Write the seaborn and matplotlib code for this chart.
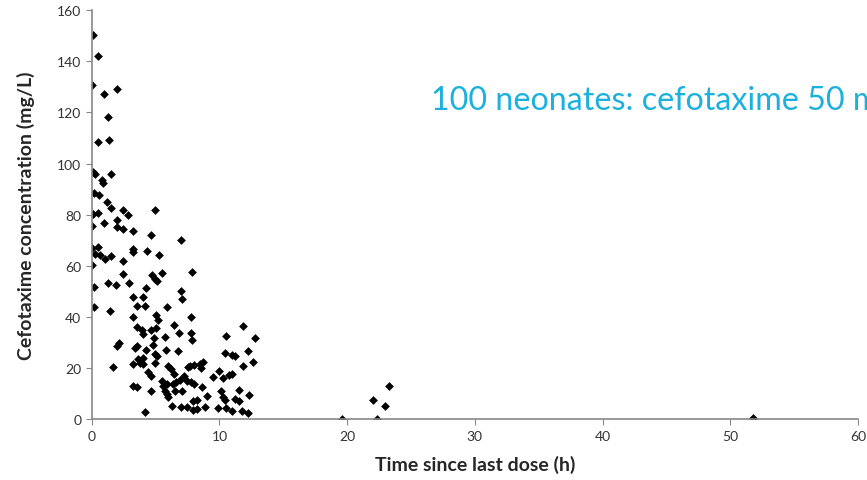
import seaborn as sns
import matplotlib.pyplot as plt
import pandas as pd

time_h = [
    0.13, 0.52, 0.05, 0.99, 2.0, 1.25, 0.52, 1.35, 0.08, 0.28, 1.49,
    0.78, 0.91, 0.18, 0.57, 1.17, 1.49, 0.13, 0.52, 2.42, 2.87, 4.96,
    0.05, 0.99, 1.96, 1.96, 2.48, 3.26, 4.64, 6.99, 0.05, 0.52, 0.26,
    0.65, 1.04, 1.49, 3.26, 3.26, 4.31, 5.27, 2.48, 0.0, 2.48, 4.70,
    4.96, 5.09, 5.53, 1.30, 1.90, 2.95, 0.18, 4.25, 6.99, 3.26, 4.04,
    7.83,
    3.52, 4.17, 0.18, 1.43, 5.87, 7.05, 3.26, 5.04, 5.22, 3.52, 3.92,
    4.04, 4.62, 5.04, 6.47, 5.74, 6.80, 4.90, 1.96, 2.16, 3.52, 4.78,
    4.23, 3.39, 4.96, 5.09, 5.80, 6.73, 3.65, 4.04, 3.78, 3.26, 4.04,
    4.96, 1.69, 6.0, 6.21, 6.47, 4.43, 4.62, 7.25, 5.48, 5.61, 5.87,
    6.39, 6.60, 3.26, 3.52, 4.62, 5.74, 5.87, 6.0, 6.52, 6.26, 6.99,
    4.17,
    7.78, 11.87, 7.78, 7.83, 10.52, 12.79, 10.44, 10.96, 11.22, 12.26,
    11.82, 12.66, 7.70, 8.01, 7.57, 8.48, 8.74, 8.54, 6.92, 7.44, 7.78,
    8.01, 9.52, 9.99, 10.31, 10.78, 10.96, 7.05, 8.66, 7.96, 8.27, 9.0,
    10.1, 11.56, 10.31, 10.44, 11.22, 11.56, 12.34, 7.49, 7.96, 8.22,
    8.87, 9.91, 10.52, 10.96, 11.74, 12.26,
    19.6, 22.0, 23.0, 23.3, 22.3, 51.8,
]
conc_mg_l = [
    150.2, 142.1, 130.6, 127.1, 129.0, 118.2, 108.5, 109.1, 96.7, 95.8, 95.8,
    93.4, 92.4, 88.6, 87.6, 85.0, 82.7, 80.4, 80.8, 81.7, 80.1, 81.7,
    75.6, 76.8, 77.8, 75.4, 74.5, 73.6, 72.2, 70.2, 67.1, 67.4, 64.7,
    64.1, 62.8, 63.7, 66.7, 65.4, 65.8, 64.1, 61.8, 60.2, 56.9, 56.3,
    54.9, 54.3, 57.2, 53.3, 52.6, 53.3, 51.7, 51.3, 50.4, 48.0, 48.0,
    57.8,
    44.5, 44.5, 44.1, 42.3, 43.9, 46.9, 40.0, 41.0, 38.7, 36.1, 35.0,
    33.5, 35.1, 35.8, 37.0, 32.4, 33.8, 31.9, 28.9, 29.8, 28.9, 29.3,
    27.2, 27.9, 25.6, 25.0, 27.2, 26.7, 23.7, 23.9, 22.0, 21.7, 21.7,
    22.0, 20.6, 21.0, 19.7, 17.8, 18.5, 17.1, 17.1, 14.9, 13.2, 13.9,
    13.9, 14.6, 13.2, 12.6, 11.3, 11.3, 10.0, 8.7, 11.3, 5.2, 4.8,
    2.8,
    40.2, 36.7, 33.7, 31.1, 32.5, 31.8, 25.9, 25.2, 24.7, 26.9,
    21.0, 22.4, 21.0, 21.3, 20.4, 21.7, 22.4, 20.1, 15.4, 15.2, 14.6,
    13.9, 16.5, 18.9, 16.1, 17.4, 17.8, 11.3, 12.8, 7.4, 7.6, 9.3,
    11.3, 11.7, 8.7, 7.6, 8.0, 7.1, 9.6, 4.8, 3.7, 4.1,
    4.8, 4.4, 4.4, 3.4, 3.2, 2.4,
    0.3, 7.5, 5.3, 13.0, 0.2, 0.5,
]

x_ticks = [0, 10, 20, 30, 40, 50, 60]
y_ticks = [0, 20, 40, 60, 80, 100, 120, 140, 160]
headline = "100 neonates: cefotaxime 50 mg/kg"


def main():
    sns.set_style("ticks")
    plt.rcParams['font.family'] = ['Lato', 'DejaVu Sans']

    df = pd.DataFrame({"time": time_h, "conc": conc_mg_l})

    fig = plt.figure(figsize=(8.67, 4.81), dpi=100)
    ax = fig.add_axes([0.1058, 0.1258, 0.8838, 0.8512])

    sns.scatterplot(data=df, x="time", y="conc", marker="D", s=20,
                    color="black", edgecolor="black", linewidth=0, ax=ax)

    ax.set_xlim(0, 60)
    ax.set_ylim(0, 160)
    ax.set_xticks(x_ticks)
    ax.set_yticks(y_ticks)
    ax.tick_params(labelsize=10, length=4, color="#888888", labelcolor="#333333")
    for side in ["left", "bottom"]:
        ax.spines[side].set_color("#888888")
        ax.spines[side].set_linewidth(1.2)
    sns.despine(ax=ax)

    ax.set_xlabel("Time since last dose (h)", fontsize=14, fontweight="bold",
                  labelpad=9)
    ax.set_ylabel("Cefotaxime concentration (mg/L)", fontsize=14,
                  fontweight="bold", labelpad=16)

    # headline runs past the right edge in the original slide
    fig.text(0.497, 0.790, headline, fontsize=23.2, color="#1BB0DE",
             ha="left", va="center")

    fig.savefig("out.png", dpi=100)


if __name__ == "__main__":
    main()
